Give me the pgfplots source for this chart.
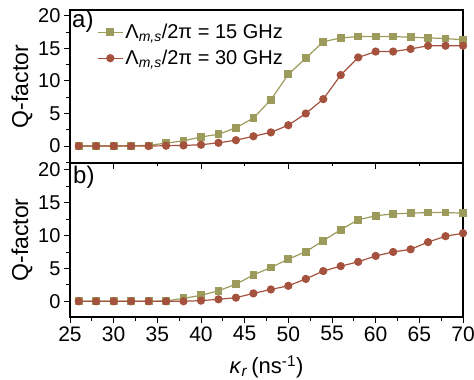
\documentclass[border=0pt]{standalone}
\usepackage{pgfplots}
\pgfplotsset{compat=1.18}
\usepackage{fontspec}
\setmainfont{Liberation Sans}
\definecolor{cg}{RGB}{157,155,92}
\definecolor{cr}{RGB}{164,82,62}
\pgfplotstableread{
x ga ra gb rb
26 0 0 0 0
28 0 0 0 0
30 0 0 0 0
32 0.05 0 0 0
34 0.1 0 0 0
36 0.45 0.05 0.05 0
38 0.8 0.1 0.45 0
40 1.4 0.2 0.9 0.1
42 1.8 0.5 1.6 0.3
44 2.8 0.9 2.6 0.55
46 4.3 1.5 4.0 1.2
48 7.1 2.1 5.15 1.8
50 11.0 3.2 6.4 2.35
52 13.5 5.0 7.55 3.4
54 16.0 7.2 9.2 4.6
56 16.6 10.9 10.9 5.35
58 16.8 13.6 12.4 6.0
60 16.8 14.5 13.0 6.9
62 16.8 14.5 13.3 7.5
64 16.7 14.9 13.4 7.9
66 16.6 15.4 13.5 9.0
68 16.5 15.4 13.5 9.9
70 16.3 15.4 13.4 10.35
}\data
\begin{document}
\begin{tikzpicture}
\pgfplotsset{
  every axis/.append style={
    scale only axis, width=393pt,
    xmin=25, xmax=70,
    axis line style={line width=1.1pt},
    tick style={line width=0.9pt, black},
    major tick length=6pt, minor tick length=3.5pt,
    tick align=outside,
    ytick={0,5,10,15,20}, minor ytick={-2.5,2.5,7.5,12.5,17.5},
    ytick pos=left,
    yticklabel style={font=\fontsize{20}{20}\selectfont},
    xticklabel style={font=\fontsize{21}{21}\selectfont},
    /pgf/number format/assume math mode=true,
    ylabel={Q-factor},
    ylabel style={at={([xshift=-48pt]rel axis cs:0,0.5)}, anchor=center, font=\fontsize{23}{23}\selectfont},
  },
  gs/.style={color=cg, line width=1.2pt, mark=square*, mark size=3.3pt, mark options={fill=cg, draw=cg}},
  rs/.style={color=cr, line width=1.2pt, mark=*, mark size=3.5pt, mark options={fill=cr, draw=cr}},
}
\begin{axis}[name=bot, height=154pt, ymin=-2.39, ymax=21.03,
  xtick={25,30,...,70}, minor xtick={27.5,32.5,...,67.5}, xtick pos=bottom,
  xlabel={\textit{κ}\textsubscript{\textit{r}}\,(ns\textsuperscript{-1})},
  xlabel style={at={([yshift=-50pt]rel axis cs:0.5,0)}, anchor=center, font=\fontsize{22}{22}\selectfont},
]
\addplot[gs] table[x=x,y=gb]{\data};
\addplot[rs] table[x=x,y=rb]{\data};
\node[anchor=north west, inner sep=0pt, font=\fontsize{24}{24}\selectfont] at ([xshift=3pt,yshift=-3pt]rel axis cs:0,1) {b)};
\end{axis}
\begin{axis}[name=top, at={(bot.north west)}, anchor=south west, height=153pt, ymin=-2.6, ymax=20.88,
  xtick={30,40,50,60}, minor xtick={35,45,55,65}, xtick pos=bottom, xticklabels={},
  legend style={draw=none, fill=none, at={([xshift=26pt,yshift=-11pt]rel axis cs:0,1)}, anchor=north west,
    font=\fontsize{20}{20}\selectfont, row sep=6pt, inner sep=1pt},
  legend cell align=left,
  legend image code/.code={\draw[mark repeat=2,mark phase=2] plot coordinates {(0pt,0pt) (12.5pt,0pt) (25pt,0pt)};},
]
\addplot[gs] table[x=x,y=ga]{\data};
\addlegendentry{Λ\textsubscript{\textit{m,s}}/2π = 15 GHz}
\addplot[rs] table[x=x,y=ra]{\data};
\addlegendentry{Λ\textsubscript{\textit{m,s}}/2π = 30 GHz}
\node[anchor=north west, inner sep=0pt, font=\fontsize{24}{24}\selectfont] at ([xshift=2pt,yshift=-0pt]rel axis cs:0,1) {a)};
\end{axis}
\pgfresetboundingbox
\path[use as bounding box] ([shift={(-70pt,-62pt)}]bot.south west) rectangle ([shift={(11pt,10pt)}]top.north east);
\end{tikzpicture}
\end{document}
